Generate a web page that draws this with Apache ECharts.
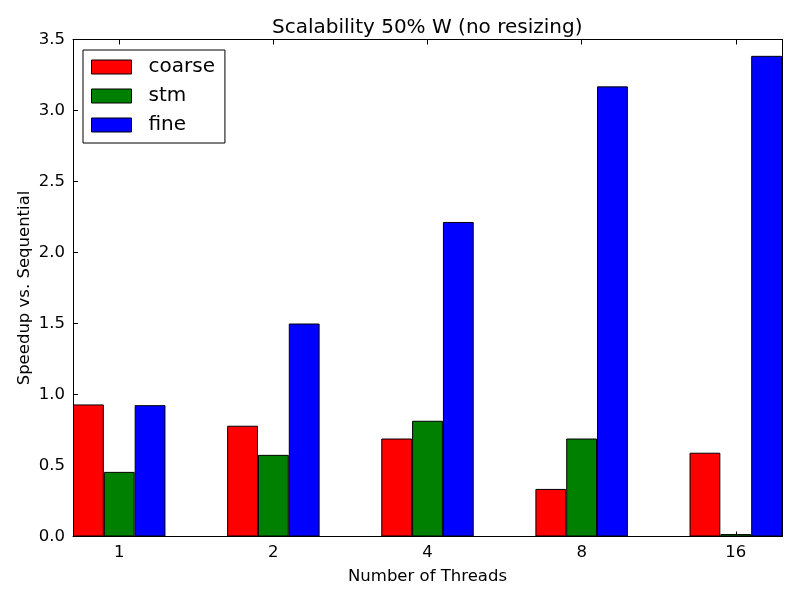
<!DOCTYPE html>
<html>
<head>
<meta charset="utf-8">
<title>Scalability 50% W (no resizing)</title>
<script src="https://cdn.jsdelivr.net/npm/echarts@6/dist/echarts.min.js"></script>
<style>
  html, body { margin: 0; padding: 0; background: #fff; }
  #chart { width: 800px; height: 600px; }
</style>
</head>
<body>
<div id="chart"></div>
<script>
// 数据
var threads = ['1', '2', '4', '8', '16'];
var coarse = [0.93, 0.78, 0.69, 0.335, 0.59];
var stm = [0.455, 0.575, 0.815, 0.69, 0.017];
var fine = [0.925, 1.50, 2.215, 3.17, 3.385];

var FONT = 'DejaVu Sans';
var idx = threads.map(function (t, i) { return i; });

// 每组三根柱子，宽 0.2，中间那根对准刻度
function toPoints(vals, offset) {
    return vals.map(function (v, i) { return [i + offset, v]; });
}

function barSeries(name, color, vals, offset) {
    return {
        name: name,
        type: 'bar',
        barWidth: 30.8,
        barGap: '-100%',
        data: toPoints(vals, offset),
        itemStyle: { color: color, borderColor: '#000', borderWidth: 1 },
        emphasis: { disabled: true }
    };
}

var lineStyle = { color: '#000', width: 1 };

var myChart = echarts.init(document.getElementById('chart'), null, { renderer: 'canvas' });
var option = {
    animation: false,
    backgroundColor: '#fff',
    textStyle: { fontFamily: FONT, color: '#000' },
    title: {
        text: 'Scalability 50% W (no resizing)',
        left: 272,
        top: 18,
        padding: 0,
        textStyle: { fontFamily: FONT, fontSize: 20, fontWeight: 'normal', color: '#000' }
    },
    legend: {
        orient: 'vertical',
        left: 83,
        top: 50,
        padding: [7, 10, 8, 8],
        itemGap: 9,
        itemWidth: 40,
        itemHeight: 14,
        icon: 'rect',
        backgroundColor: '#fff',
        borderColor: '#000',
        borderWidth: 1,
        borderRadius: 0,
        itemStyle: { borderColor: '#000', borderWidth: 1 },
        textStyle: { fontFamily: FONT, fontSize: 20, color: '#000', lineHeight: 20, padding: [0, 0, 0, 12] },
        data: ['coarse', 'stm', 'fine']
    },
    grid: { left: 73, right: 18, top: 39.5, bottom: 63.5 },
    xAxis: [{
        type: 'value',
        min: -0.3,
        max: 4.3,
        name: 'Number of Threads',
        nameLocation: 'middle',
        nameGap: 32,
        nameMoveOverlap: false,
        nameTextStyle: { fontFamily: FONT, fontSize: 16.5, color: '#000' },
        axisLine: { onZero: false, lineStyle: lineStyle },
        axisTick: { show: true, inside: true, length: 5, lineStyle: lineStyle, customValues: idx },
        axisLabel: {
            customValues: idx,
            fontFamily: FONT, fontSize: 16.5, color: '#000', margin: 8,
            formatter: function (v) { return threads[Math.round(v)]; }
        },
        splitLine: { show: false }
    }, {
        type: 'value',
        position: 'top',
        min: -0.3,
        max: 4.3,
        axisLine: { show: true, onZero: false, lineStyle: lineStyle },
        axisTick: { show: true, inside: true, length: 5, lineStyle: lineStyle, customValues: idx },
        axisLabel: { show: false },
        splitLine: { show: false }
    }],
    yAxis: [{
        type: 'value',
        min: 0,
        max: 3.5,
        interval: 0.5,
        name: 'Speedup vs. Sequential',
        nameLocation: 'middle',
        nameGap: 40,
        nameMoveOverlap: false,
        nameTextStyle: { fontFamily: FONT, fontSize: 16.5, color: '#000' },
        axisLine: { show: true, onZero: false, lineStyle: lineStyle },
        axisTick: { inside: true, length: 5, lineStyle: lineStyle },
        axisLabel: {
            fontFamily: FONT, fontSize: 16.5, color: '#000', margin: 8,
            formatter: function (v) { return v.toFixed(1); }
        },
        splitLine: { show: false }
    }, {
        type: 'value',
        position: 'right',
        min: 0,
        max: 3.5,
        interval: 0.5,
        axisLine: { show: true, onZero: false, lineStyle: lineStyle },
        axisTick: { inside: true, length: 5, lineStyle: lineStyle },
        axisLabel: { show: false },
        splitLine: { show: false }
    }],
    series: [
        barSeries('coarse', '#ff0000', coarse, -0.2),
        barSeries('stm', '#008000', stm, 0),
        barSeries('fine', '#0000ff', fine, 0.2)
    ]
};
myChart.setOption(option);
</script>
</body>
</html>
